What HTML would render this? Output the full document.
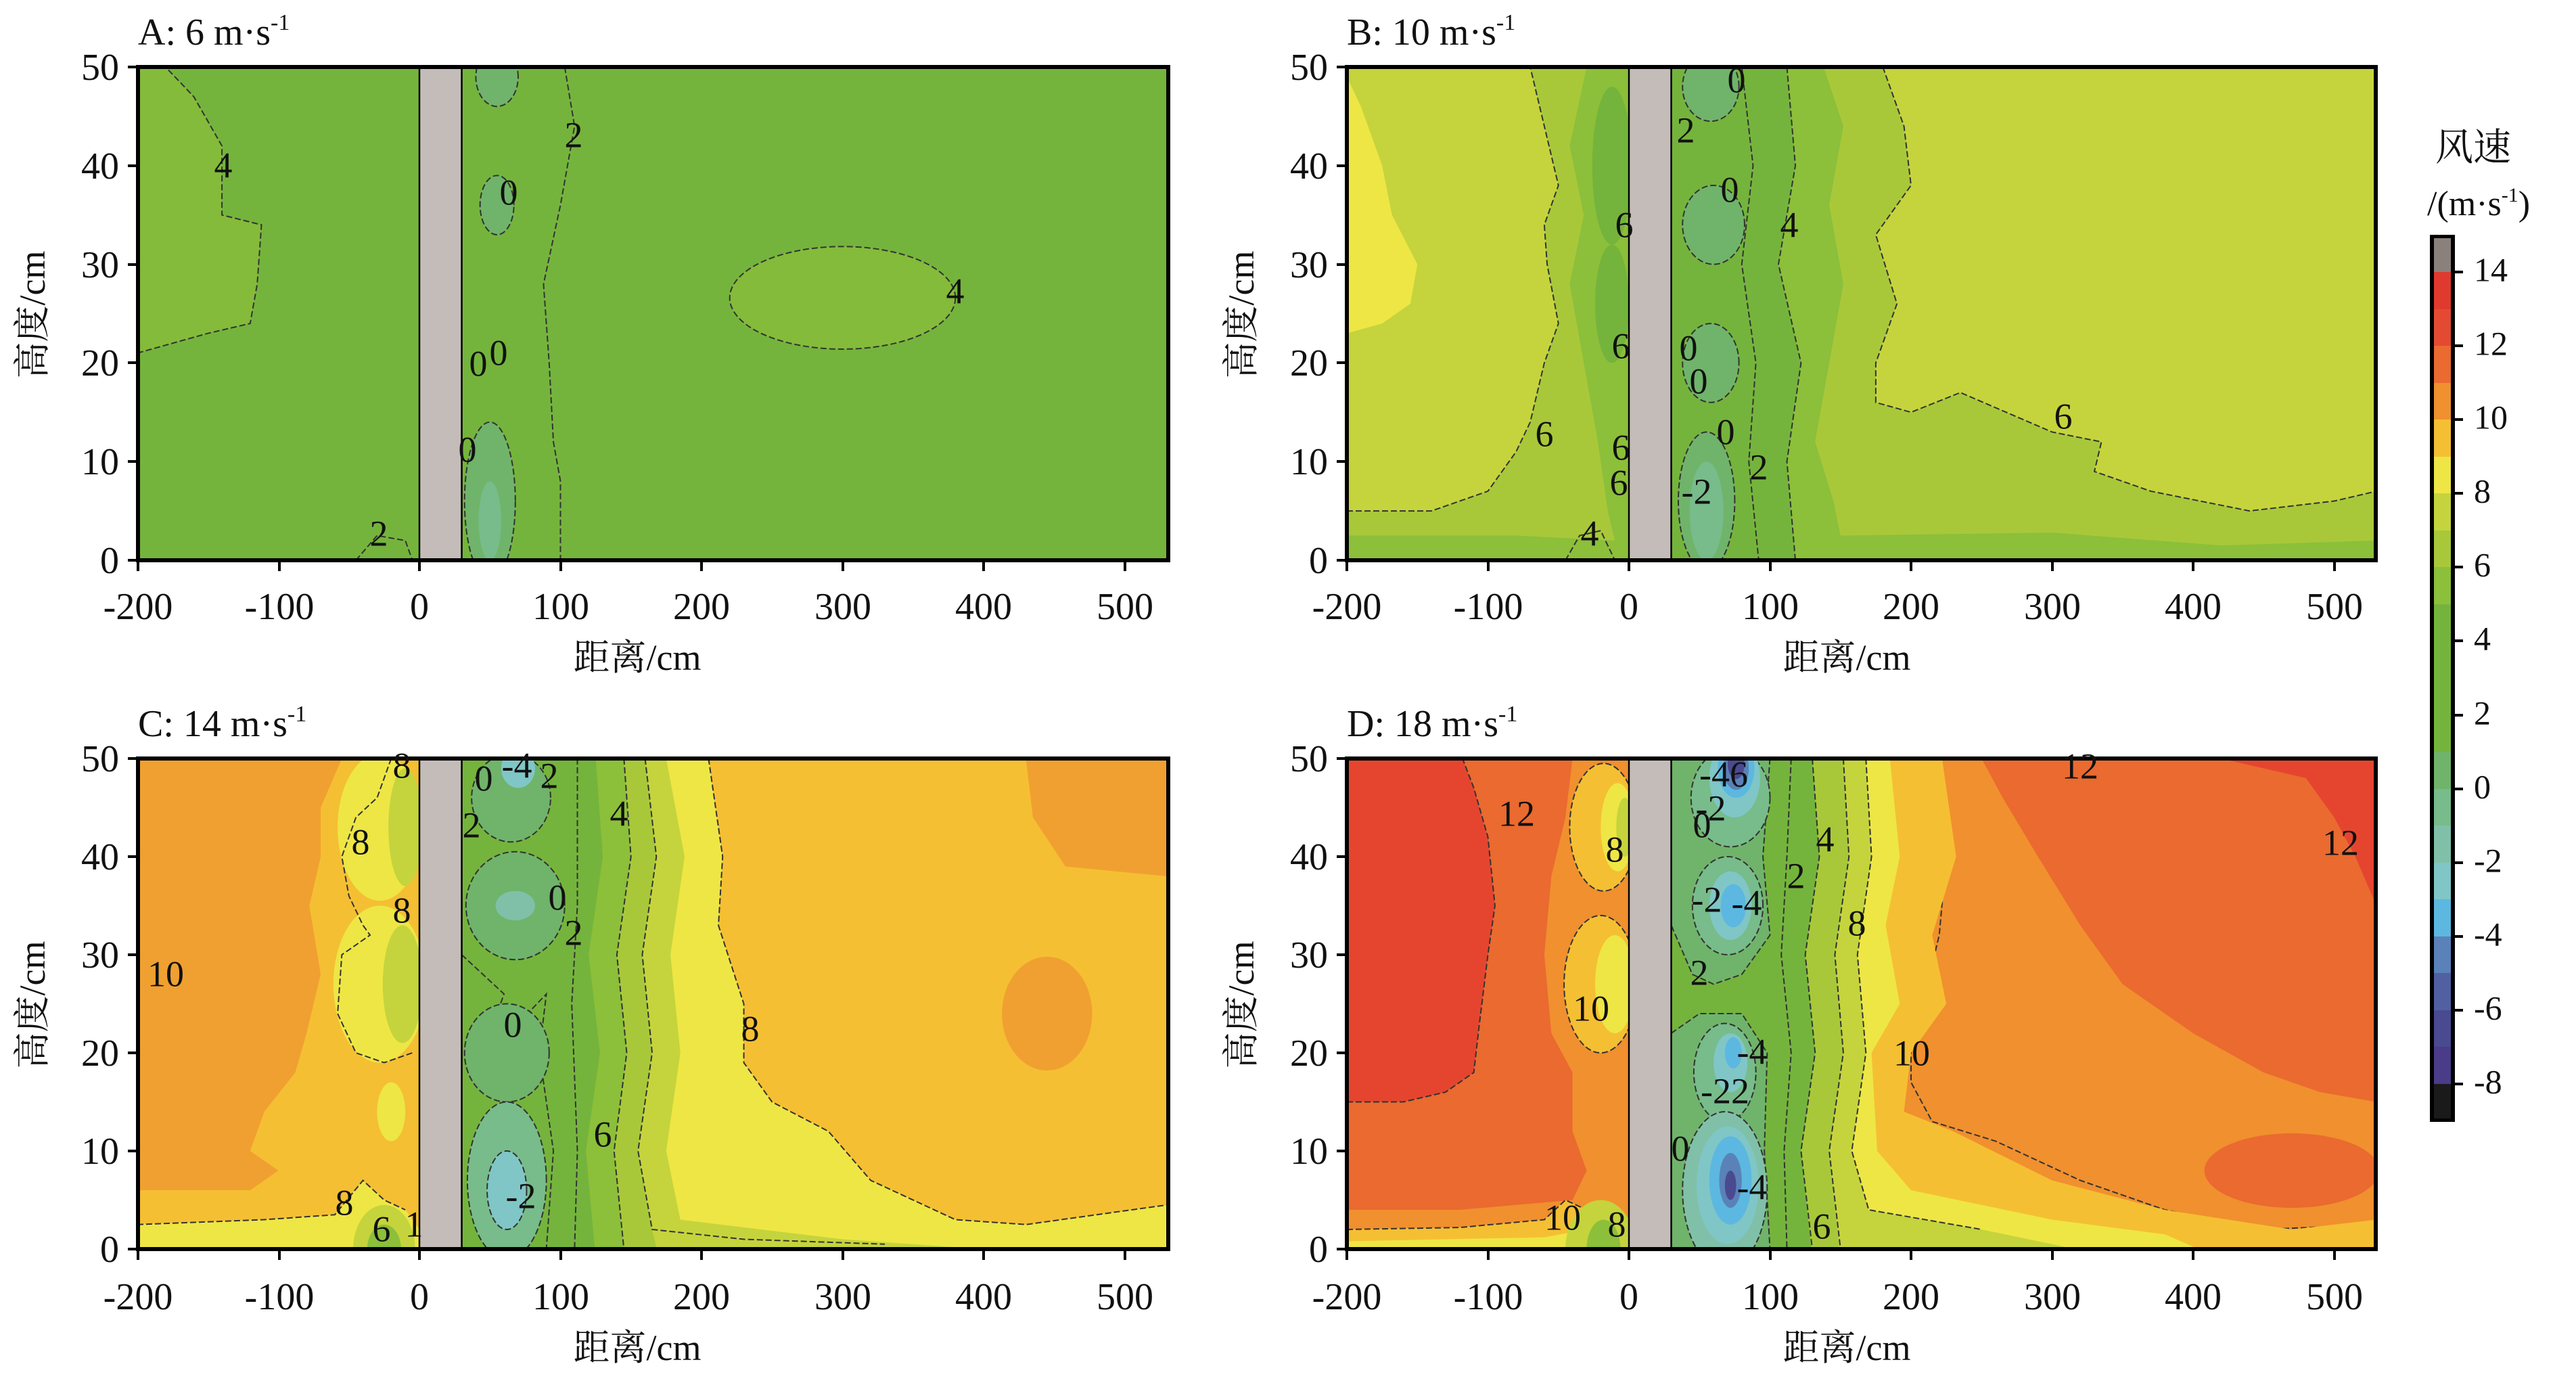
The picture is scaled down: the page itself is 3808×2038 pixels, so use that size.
<!DOCTYPE html>
<html><head><meta charset="utf-8"><style>
html,body{margin:0;padding:0;background:#fff;}
svg{display:block;}
text{font-family:"Liberation Serif","Noto Serif CJK SC",serif;fill:#111;}
.c{fill:none;stroke:#333;stroke-width:2;stroke-dasharray:9 4;vector-effect:non-scaling-stroke;}
.lb{font-size:54px;text-anchor:middle;dominant-baseline:middle;}
.tk{font-size:56px;}
.ax{font-size:54px;}
.wall{fill:#c4bcb8;stroke:#000;stroke-width:2.5;vector-effect:non-scaling-stroke;}
</style></head><body>
<svg width="3808" height="2038" viewBox="0 0 3808 2038" xmlns="http://www.w3.org/2000/svg">
<defs>
<clipPath id="cA"><rect x="204" y="99" width="1523" height="729"/></clipPath>
<clipPath id="cB"><rect x="1991" y="99" width="1521" height="729"/></clipPath>
<clipPath id="cC"><rect x="204" y="1121" width="1523" height="725"/></clipPath>
<clipPath id="cD"><rect x="1991" y="1121" width="1521" height="725"/></clipPath>
</defs>

<!-- ================= PANEL A ================= -->
<g clip-path="url(#cA)"><g transform="translate(620,828) scale(2.085,-14.58)">
<rect x="-210" y="-1" width="750" height="52" fill="#74b43c"/>
<polygon points="-200,21 -150,23 -120,24 -115,28 -112,34 -140,35 -140,42 -160,47 -180,50 -200,50" fill="#84bb3a"/>
<polyline class="c" points="-200,21 -150,23 -120,24 -115,28 -112,34 -140,35 -140,42 -160,47 -180,50"/>
<ellipse cx="300" cy="26.6" rx="80" ry="5.2" fill="#84bb3a"/>
<ellipse class="c" cx="300" cy="26.6" rx="80" ry="5.2"/>
<ellipse cx="55" cy="49" rx="15" ry="3" fill="#6fb46a"/>
<ellipse class="c" cx="55" cy="49" rx="15" ry="3"/>
<ellipse cx="55" cy="36" rx="12" ry="3" fill="#6fb46a"/>
<ellipse class="c" cx="55" cy="36" rx="12" ry="3"/>
<ellipse cx="50" cy="6" rx="18" ry="8" fill="#6fb46a"/>
<ellipse class="c" cx="50" cy="6" rx="18" ry="8"/>
<ellipse cx="50" cy="4" rx="8" ry="4" fill="#77bc8a"/>
<polyline class="c" points="103,50 110,44 100,36 88,28 92,20 95,12 100,8 100,0"/>
<polyline class="c" points="-45,0 -30,2.5 -10,2 -5,0"/>
<rect class="wall" x="0" y="-1" width="30" height="52"/>
</g></g>
<rect x="204" y="99" width="1523" height="729" fill="none" stroke="#000" stroke-width="6"/>
<text class="lb" x="330" y="250">4</text><text class="lb" x="848" y="205">2</text>
<text class="lb" x="752" y="290">0</text><text class="lb" x="1412" y="436">4</text>
<text class="lb" x="707" y="543">0</text><text class="lb" x="737" y="527">0</text>
<text class="lb" x="691" y="670">0</text><text class="lb" x="560" y="794">2</text>

<!-- ================= PANEL B ================= -->
<g clip-path="url(#cB)"><g transform="translate(2408,828) scale(2.085,-14.58)">
<rect x="-210" y="-1" width="750" height="52" fill="#c5d43c"/>
<polygon points="-200,49 -190,46 -175,40 -168,35 -150,30 -155,26 -175,24 -200,23" fill="#eee645"/>
<polygon points="-200,5 -140,5 -100,7 -80,11 -70,14 -60,20 -50,24 -58,30 -60,34 -50,38 -60,44 -70,50 180,50 195,44 200,38 175,33 190,26 175,20 175,16 200,15 235,17 300,13 335,12 330,9 370,7 440,5 500,6 530,7 530,-1 -200,-1" fill="#a8c83a"/>
<polyline class="c" points="-200,5 -140,5 -100,7 -80,11 -70,14 -60,20 -50,24 -58,30 -60,34 -50,38 -60,44 -70,50"/>
<polyline class="c" points="180,50 195,44 200,38 175,33 190,26 175,20 175,16 200,15 235,17 300,13 335,12 330,9 370,7 440,5 500,6 530,7"/>
<polygon points="-30,50 -42,42 -32,35 -42,28 -32,20 -22,12 -15,5 -10,2 -80,2.5 -200,2.5 -200,-1 530,-1 530,2 420,1.5 300,2.8 150,2.5 145,6 132,12 142,20 152,28 142,36 152,44 138,50" fill="#8cbf3a"/>
<polygon points="30,50 112,50 118,40 106,30 122,20 112,10 118,0 30,0" fill="#74b43c"/>
<ellipse cx="-12" cy="40" rx="14" ry="8" fill="#74b43c"/>
<ellipse cx="-12" cy="26" rx="12" ry="6" fill="#74b43c"/>
<polyline class="c" points="112,50 118,40 106,30 122,20 112,10 118,0"/>
<polyline class="c" points="80,50 88,40 80,30 90,20 85,10 92,0"/>
<ellipse cx="58" cy="48" rx="20" ry="3.5" fill="#6fb46a"/><ellipse class="c" cx="58" cy="48" rx="20" ry="3.5"/>
<ellipse cx="60" cy="34" rx="22" ry="4" fill="#6fb46a"/><ellipse class="c" cx="60" cy="34" rx="22" ry="4"/>
<ellipse cx="58" cy="20" rx="20" ry="4" fill="#6fb46a"/><ellipse class="c" cx="58" cy="20" rx="20" ry="4"/>
<ellipse cx="55" cy="6" rx="20" ry="7" fill="#6fb46a"/><ellipse class="c" cx="55" cy="6" rx="20" ry="7"/>
<ellipse cx="55" cy="5" rx="12" ry="5" fill="#77bc8a"/>
<polyline class="c" points="-45,0 -35,2.5 -20,3 -10,0"/>
<rect class="wall" x="0" y="-1" width="30" height="52"/>
</g></g>
<rect x="1991" y="99" width="1521" height="729" fill="none" stroke="#000" stroke-width="6"/>
<text class="lb" x="2567" y="124">0</text><text class="lb" x="2492" y="198">2</text>
<text class="lb" x="2557" y="286">0</text><text class="lb" x="2645" y="338">4</text>
<text class="lb" x="2401" y="338">6</text><text class="lb" x="2396" y="517">6</text>
<text class="lb" x="2496" y="520">0</text><text class="lb" x="2511" y="569">0</text>
<text class="lb" x="2283" y="647">6</text><text class="lb" x="2551" y="644">0</text>
<text class="lb" x="2396" y="667">6</text><text class="lb" x="2600" y="696">2</text>
<text class="lb" x="2393" y="719">6</text><text class="lb" x="2508" y="732">-2</text>
<text class="lb" x="2350" y="794">4</text><text class="lb" x="3050" y="621">6</text>

<!-- ================= PANEL C ================= -->
<g clip-path="url(#cC)"><g transform="translate(620,1846) scale(2.085,-14.5)">
<rect x="-210" y="-1" width="750" height="52" fill="#f5bf33"/>
<polygon points="-200,50 -55,50 -70,45 -70,40 -78,35 -70,28 -80,22 -88,18 -110,14 -120,10 -100,8 -120,6 -200,6" fill="#f0a030"/>
<polygon points="430,50 435,44 458,39 530,38 530,50" fill="#f0a030"/>
<ellipse cx="445" cy="24" rx="32" ry="5.8" fill="#f0a030"/>
<polygon points="-200,-1 -200,2.5 -110,3 -60,3.5 -40,7 -25,5 -10,4 0,2 0,-1" fill="#eee645"/>
<ellipse cx="-28" cy="43" rx="30" ry="7.5" fill="#eee645"/>
<ellipse cx="-28" cy="27" rx="33" ry="8" fill="#eee645"/>
<ellipse cx="-20" cy="14" rx="10" ry="3" fill="#eee645"/>
<polyline class="c" points="-20,50 -30,46 -45,44 -55,40 -50,36 -40,33 -35,32 -55,30 -58,24 -45,20 -25,19 -5,20"/>
<polyline class="c" points="-200,2.5 -110,3 -60,3.5 -40,7 -25,5 -10,4"/>
<polygon points="150,50 205,50 215,40 212,33 230,25 230,19 250,15 290,12 320,7 380,3 430,2.5 530,4.5 530,-1 150,-1" fill="#eee645"/>
<polyline class="c" points="205,50 215,40 212,33 230,25 230,19 250,15 290,12 320,7 380,3 430,2.5 530,4.5"/>
<polygon points="110,50 175,50 188,40 178,30 185,20 175,10 185,3 300,1 400,0 400,-1 100,-1" fill="#c5d43c"/>
<ellipse cx="-10" cy="43" rx="12" ry="6" fill="#c5d43c"/>
<ellipse cx="-12" cy="27" rx="14" ry="6" fill="#c5d43c"/>
<ellipse cx="-25" cy="0" rx="22" ry="4.5" fill="#c5d43c"/>
<ellipse cx="-25" cy="0" rx="12" ry="2.5" fill="#8cbf3a"/>
<polygon points="105,50 160,50 168,40 158,30 165,20 155,10 165,2 170,-1 100,-1" fill="#a8c83a"/>
<polygon points="100,50 145,50 150,40 140,30 147,20 138,10 145,0 100,-1" fill="#8cbf3a"/>
<polyline class="c" points="145,50 150,40 140,30 147,20 138,10 145,0"/>
<polyline class="c" points="160,50 168,40 158,30 165,20 155,10 165,2 230,1 330,0.5"/>
<polygon points="30,50 125,50 130,40 120,30 128,20 118,10 125,-1 30,-1" fill="#74b43c"/>
<polyline class="c" points="112,50 112,35 108,25 112,10 110,0"/>
<polyline class="c" points="30,30 60,26 50,22 70,23 90,26 85,20 95,10 90,0"/>
<ellipse cx="65" cy="46" rx="28" ry="4.5" fill="#6fb46a"/><ellipse class="c" cx="65" cy="46" rx="28" ry="4.5"/>
<ellipse cx="70" cy="49" rx="12" ry="2" fill="#80c6c6"/>
<ellipse cx="68" cy="35" rx="35" ry="5.5" fill="#6fb46a"/><ellipse class="c" cx="68" cy="35" rx="35" ry="5.5"/>
<ellipse cx="68" cy="35" rx="14" ry="1.5" fill="#80c0a8"/>
<ellipse cx="62" cy="20" rx="30" ry="5" fill="#6fb46a"/><ellipse class="c" cx="62" cy="20" rx="30" ry="5"/>
<ellipse cx="62" cy="7" rx="28" ry="8" fill="#77bc8a"/><ellipse class="c" cx="62" cy="7" rx="28" ry="8"/>
<ellipse cx="62" cy="6" rx="14" ry="4" fill="#80c6c6"/><ellipse class="c" cx="62" cy="6" rx="14" ry="4"/>
<rect class="wall" x="0" y="-1" width="30" height="52"/>
</g></g>
<rect x="204" y="1121" width="1523" height="725" fill="none" stroke="#000" stroke-width="6"/>
<text class="lb" x="594" y="1137">8</text><text class="lb" x="533" y="1250">8</text>
<text class="lb" x="594" y="1351">8</text><text class="lb" x="245" y="1445">10</text>
<text class="lb" x="764" y="1137">-4</text><text class="lb" x="812" y="1152">2</text>
<text class="lb" x="715" y="1156">0</text><text class="lb" x="697" y="1225">2</text>
<text class="lb" x="915" y="1208">4</text><text class="lb" x="824" y="1332">0</text>
<text class="lb" x="848" y="1384">2</text><text class="lb" x="758" y="1520">0</text>
<text class="lb" x="1109" y="1526">8</text><text class="lb" x="891" y="1682">6</text>
<text class="lb" x="770" y="1773">-2</text><text class="lb" x="509" y="1783">8</text>
<text class="lb" x="564" y="1822">6</text><text class="lb" x="612" y="1815">1</text>

<!-- ================= PANEL D ================= -->
<g clip-path="url(#cD)"><g transform="translate(2408,1846) scale(2.085,-14.5)">
<rect x="-210" y="-1" width="750" height="52" fill="#f0902e"/>
<polygon points="230,50 530,50 530,15 490,16 450,18 400,22 350,27 320,33 290,40 265,46 250,50" fill="#ea6a30"/>
<polyline class="c" points="200,50 225,40 220,32 200,20 200,17 215,13 260,11 320,7 380,4 450,2 530,2.5"/>
<ellipse cx="470" cy="8" rx="62" ry="3.8" fill="#ea6a30"/>
<polygon points="420,50 530,50 530,35 515,40 500,44 480,48" fill="#e5452f"/>
<polygon points="-210,4 -200,50 -40,50 -45,44 -55,38 -60,30 -55,22 -40,18 -40,12 -30,8 -40,5 -120,4" fill="#ea6a30"/>
<polygon points="-200,15 -160,15 -130,16 -110,18 -106,23 -100,30 -95,35 -100,42 -110,47 -118,50 -200,50" fill="#e5452f"/>
<polyline class="c" points="-200,15 -160,15 -130,16 -110,18 -106,23 -100,30 -95,35 -100,42 -110,47 -118,50"/>
<polygon points="-200,-1 -200,2 -120,2.2 -60,3 -45,5 -30,4 0,3 0,-1" fill="#f5bf33"/>
<polygon points="-200,-1 -200,0.8 -60,1.2 -30,2 0,1 0,-1" fill="#eee645"/>
<polyline class="c" points="-200,2 -120,2.2 -60,3 -45,5 -30,4 -10,3"/>
<ellipse cx="-18" cy="43" rx="24" ry="6.5" fill="#f5bf33"/><ellipse class="c" cx="-18" cy="43" rx="24" ry="6.5"/>
<ellipse cx="-8" cy="43" rx="12" ry="4.5" fill="#eee645"/>
<ellipse cx="-3" cy="43" rx="6" ry="3" fill="#c5d43c"/>
<ellipse cx="-20" cy="27" rx="26" ry="7" fill="#f5bf33"/><ellipse class="c" cx="-20" cy="27" rx="26" ry="7"/>
<ellipse cx="-10" cy="27" rx="14" ry="5" fill="#eee645"/>
<ellipse cx="-20" cy="0" rx="25" ry="5" fill="#c5d43c"/>
<ellipse cx="-18" cy="0" rx="12" ry="3" fill="#8cbf3a"/>
<polygon points="145,50 222,50 232,40 215,32 225,25 200,20 195,14 230,12 300,7 380,4 470,2 530,3 530,-1 145,-1" fill="#f5bf33"/>
<polygon points="140,50 185,50 192,40 182,33 192,25 172,20 176,10 200,6 300,3 380,1.5 420,-1 140,-1" fill="#eee645"/>
<polygon points="130,50 168,50 172,40 162,30 168,20 158,10 170,4 250,2 350,-1 130,-1" fill="#c5d43c"/>
<polyline class="c" points="168,50 172,40 162,30 168,20 158,10 170,4 250,2"/>
<polygon points="118,50 152,50 156,40 146,30 152,20 142,10 150,-1 118,-1" fill="#a8c83a"/>
<polyline class="c" points="152,50 156,40 146,30 152,20 142,10 150,0"/>
<polygon points="30,50 130,50 135,40 125,30 132,20 122,10 130,-1 30,-1" fill="#74b43c"/>
<polyline class="c" points="130,50 135,40 125,30 132,20 122,10 130,0"/>
<polyline class="c" points="115,50 112,40 108,30 115,20 110,10 112,0"/>
<polygon points="30,50 100,50 95,40 100,32 80,28 60,27 45,28 30,33" fill="#6fb46a"/>
<polygon points="30,22 50,24 80,24 98,20 96,10 100,0 30,0" fill="#6fb46a"/>
<polyline class="c" points="100,50 95,40 100,32 80,28 60,27 45,28 30,33"/>
<polyline class="c" points="30,22 50,24 80,24 98,20 96,10 100,0"/>
<ellipse cx="72" cy="46" rx="28" ry="5" fill="#77bc8a"/><ellipse class="c" cx="72" cy="46" rx="28" ry="5"/>
<ellipse cx="75" cy="48" rx="18" ry="4" fill="#80c6c6"/>
<ellipse cx="76" cy="49" rx="13" ry="3" fill="#5cb8e0"/>
<ellipse cx="76" cy="49" rx="9" ry="2.2" fill="#5a82b8"/>
<ellipse cx="76" cy="49.5" rx="6" ry="1.6" fill="#4a4a90"/>
<ellipse cx="70" cy="35" rx="25" ry="5" fill="#77bc8a"/><ellipse class="c" cx="70" cy="35" rx="25" ry="5"/>
<ellipse cx="72" cy="35" rx="15" ry="3.5" fill="#80c6c6"/>
<ellipse cx="74" cy="35" rx="9" ry="2.2" fill="#5cb8e0"/>
<ellipse cx="68" cy="18" rx="22" ry="5" fill="#77bc8a"/><ellipse class="c" cx="68" cy="18" rx="22" ry="5"/>
<ellipse cx="72" cy="19" rx="12" ry="3" fill="#80c6c6"/>
<ellipse cx="74" cy="20" rx="6" ry="1.6" fill="#5cb8e0"/>
<ellipse cx="68" cy="6" rx="30" ry="8" fill="#80c0a8"/><ellipse class="c" cx="68" cy="6" rx="30" ry="8"/>
<ellipse cx="70" cy="6.5" rx="22" ry="6" fill="#80c6c6"/>
<ellipse cx="72" cy="7" rx="15" ry="4.5" fill="#5cb8e0"/>
<ellipse cx="72" cy="7" rx="8" ry="2.8" fill="#5a82b8"/>
<ellipse cx="72" cy="6.5" rx="4" ry="1.5" fill="#4a4a90"/>
<rect class="wall" x="0" y="-1" width="30" height="52"/>
</g></g>
<rect x="1991" y="1121" width="1521" height="725" fill="none" stroke="#000" stroke-width="6"/>
<text class="lb" x="2242" y="1208">12</text><text class="lb" x="3075" y="1138">12</text>
<text class="lb" x="3460" y="1251">12</text><text class="lb" x="2548" y="1150">-46</text>
<text class="lb" x="2529" y="1200">-2</text><text class="lb" x="2516" y="1225">0</text>
<text class="lb" x="2698" y="1246">4</text><text class="lb" x="2655" y="1300">2</text>
<text class="lb" x="2745" y="1370">8</text><text class="lb" x="2523" y="1335">-2</text>
<text class="lb" x="2582" y="1340">-4</text><text class="lb" x="2512" y="1443">2</text>
<text class="lb" x="2352" y="1496">10</text><text class="lb" x="2826" y="1562">10</text>
<text class="lb" x="2590" y="1560">-4</text><text class="lb" x="2550" y="1618">-22</text>
<text class="lb" x="2484" y="1703">0</text><text class="lb" x="2590" y="1760">-4</text>
<text class="lb" x="2310" y="1805">10</text><text class="lb" x="2693" y="1818">6</text>
<text class="lb" x="2387" y="1261">8</text><text class="lb" x="2390" y="1815">8</text>

<!-- ================= AXES ================= -->
<g stroke="#000" stroke-width="4">
<path d="M189 99H204M189 245H204M189 391H204M189 536H204M189 682H204M189 828H204"/>
<path d="M204 828V844M413 828V844M620 828V844M829 828V844M1037 828V844M1246 828V844M1454 828V844M1663 828V844"/>
<path d="M1976 99H1991M1976 245H1991M1976 391H1991M1976 536H1991M1976 682H1991M1976 828H1991"/>
<path d="M1991 828V844M2200 828V844M2408 828V844M2617 828V844M2825 828V844M3034 828V844M3242 828V844M3451 828V844"/>
<path d="M189 1121H204M189 1266H204M189 1411H204M189 1556H204M189 1701H204M189 1846H204"/>
<path d="M204 1846V1862M413 1846V1862M620 1846V1862M829 1846V1862M1037 1846V1862M1246 1846V1862M1454 1846V1862M1663 1846V1862"/>
<path d="M1976 1121H1991M1976 1266H1991M1976 1411H1991M1976 1556H1991M1976 1701H1991M1976 1846H1991"/>
<path d="M1991 1846V1862M2200 1846V1862M2408 1846V1862M2617 1846V1862M2825 1846V1862M3034 1846V1862M3242 1846V1862M3451 1846V1862"/>
</g>

<g class="tk" text-anchor="end">
<text x="176" y="118" class="tk">50</text><text x="176" y="264" class="tk">40</text><text x="176" y="410" class="tk">30</text>
<text x="176" y="555" class="tk">20</text><text x="176" y="701" class="tk">10</text><text x="176" y="847" class="tk">0</text>
<text x="1963" y="118" class="tk">50</text><text x="1963" y="264" class="tk">40</text><text x="1963" y="410" class="tk">30</text>
<text x="1963" y="555" class="tk">20</text><text x="1963" y="701" class="tk">10</text><text x="1963" y="847" class="tk">0</text>
<text x="176" y="1140" class="tk">50</text><text x="176" y="1285" class="tk">40</text><text x="176" y="1430" class="tk">30</text>
<text x="176" y="1575" class="tk">20</text><text x="176" y="1720" class="tk">10</text><text x="176" y="1865" class="tk">0</text>
<text x="1963" y="1140" class="tk">50</text><text x="1963" y="1285" class="tk">40</text><text x="1963" y="1430" class="tk">30</text>
<text x="1963" y="1575" class="tk">20</text><text x="1963" y="1720" class="tk">10</text><text x="1963" y="1865" class="tk">0</text>
</g>
<g text-anchor="middle">
<text x="204" y="915" class="tk">-200</text><text x="413" y="915" class="tk">-100</text><text x="620" y="915" class="tk">0</text><text x="829" y="915" class="tk">100</text>
<text x="1037" y="915" class="tk">200</text><text x="1246" y="915" class="tk">300</text><text x="1454" y="915" class="tk">400</text><text x="1663" y="915" class="tk">500</text>
<text x="1991" y="915" class="tk">-200</text><text x="2200" y="915" class="tk">-100</text><text x="2408" y="915" class="tk">0</text><text x="2617" y="915" class="tk">100</text>
<text x="2825" y="915" class="tk">200</text><text x="3034" y="915" class="tk">300</text><text x="3242" y="915" class="tk">400</text><text x="3451" y="915" class="tk">500</text>
<text x="204" y="1935" class="tk">-200</text><text x="413" y="1935" class="tk">-100</text><text x="620" y="1935" class="tk">0</text><text x="829" y="1935" class="tk">100</text>
<text x="1037" y="1935" class="tk">200</text><text x="1246" y="1935" class="tk">300</text><text x="1454" y="1935" class="tk">400</text><text x="1663" y="1935" class="tk">500</text>
<text x="1991" y="1935" class="tk">-200</text><text x="2200" y="1935" class="tk">-100</text><text x="2408" y="1935" class="tk">0</text><text x="2617" y="1935" class="tk">100</text>
<text x="2825" y="1935" class="tk">200</text><text x="3034" y="1935" class="tk">300</text><text x="3242" y="1935" class="tk">400</text><text x="3451" y="1935" class="tk">500</text>
<text x="942" y="990" class="ax">距离/cm</text>
<text x="2730" y="990" class="ax">距离/cm</text>
<text x="942" y="2010" class="ax">距离/cm</text>
<text x="2730" y="2010" class="ax">距离/cm</text>
<text transform="translate(66,465) rotate(-90)" class="ax">高度/cm</text>
<text transform="translate(1853,465) rotate(-90)" class="ax">高度/cm</text>
<text transform="translate(66,1485) rotate(-90)" class="ax">高度/cm</text>
<text transform="translate(1853,1485) rotate(-90)" class="ax">高度/cm</text>
</g>

<!-- titles -->
<g style="font-size:56px">
<text x="204" y="66">A: 6 m·s<tspan dy="-22" font-size="34">-1</tspan></text>
<text x="1991" y="66">B: 10 m·s<tspan dy="-22" font-size="34">-1</tspan></text>
<text x="204" y="1088">C: 14 m·s<tspan dy="-22" font-size="34">-1</tspan></text>
<text x="1991" y="1088">D: 18 m·s<tspan dy="-22" font-size="34">-1</tspan></text>
</g>

<!-- ================= COLORBAR ================= -->
<text x="3600" y="237" style="font-size:56px">风速</text>
<text x="3588" y="318" style="font-size:52px">/(m·s<tspan dy="-20" font-size="30">-1</tspan><tspan dy="20">)</tspan></text>
<rect x="3592" y="347" width="37" height="1311" fill="#000"/>
<rect x="3598" y="352" width="25" height="50" fill="#8a817c"/>
<rect x="3598" y="402" width="25" height="55" fill="#e03a2e"/>
<rect x="3598" y="457" width="25" height="55" fill="#e44a32"/>
<rect x="3598" y="511" width="25" height="55" fill="#ea6a30"/>
<rect x="3598" y="566" width="25" height="55" fill="#f0902e"/>
<rect x="3598" y="620" width="25" height="55" fill="#f5bf33"/>
<rect x="3598" y="675" width="25" height="55" fill="#eee645"/>
<rect x="3598" y="729" width="25" height="55" fill="#c5d43c"/>
<rect x="3598" y="784" width="25" height="55" fill="#a8c83a"/>
<rect x="3598" y="838" width="25" height="55" fill="#8cbf3a"/>
<rect x="3598" y="893" width="25" height="218" fill="#74b43c"/>
<rect x="3598" y="1111" width="25" height="55" fill="#6fb46a"/>
<rect x="3598" y="1166" width="25" height="55" fill="#77bc8a"/>
<rect x="3598" y="1220" width="25" height="55" fill="#80c0a8"/>
<rect x="3598" y="1275" width="25" height="55" fill="#80c6c6"/>
<rect x="3598" y="1329" width="25" height="55" fill="#5cb8e0"/>
<rect x="3598" y="1384" width="25" height="55" fill="#5a82b8"/>
<rect x="3598" y="1438" width="25" height="55" fill="#5060a0"/>
<rect x="3598" y="1493" width="25" height="55" fill="#4a4a90"/>
<rect x="3598" y="1547" width="25" height="55" fill="#4a3c88"/>
<rect x="3598" y="1602" width="25" height="51" fill="#1a1a1a"/>
<g stroke="#000" stroke-width="4">
<path d="M3629 402H3641M3629 511H3641M3629 620H3641M3629 729H3641M3629 838H3641M3629 947H3641M3629 1057H3641M3629 1166H3641M3629 1275H3641M3629 1384H3641M3629 1493H3641M3629 1602H3641"/>
</g>
<g style="font-size:50px" dominant-baseline="middle">
<text x="3657" y="404">14</text><text x="3657" y="513">12</text><text x="3657" y="622">10</text>
<text x="3657" y="731">8</text><text x="3657" y="840">6</text><text x="3657" y="949">4</text>
<text x="3657" y="1059">2</text><text x="3657" y="1168">0</text><text x="3657" y="1277">-2</text>
<text x="3657" y="1386">-4</text><text x="3657" y="1495">-6</text><text x="3657" y="1604">-8</text>
</g>
</svg>
</body></html>
